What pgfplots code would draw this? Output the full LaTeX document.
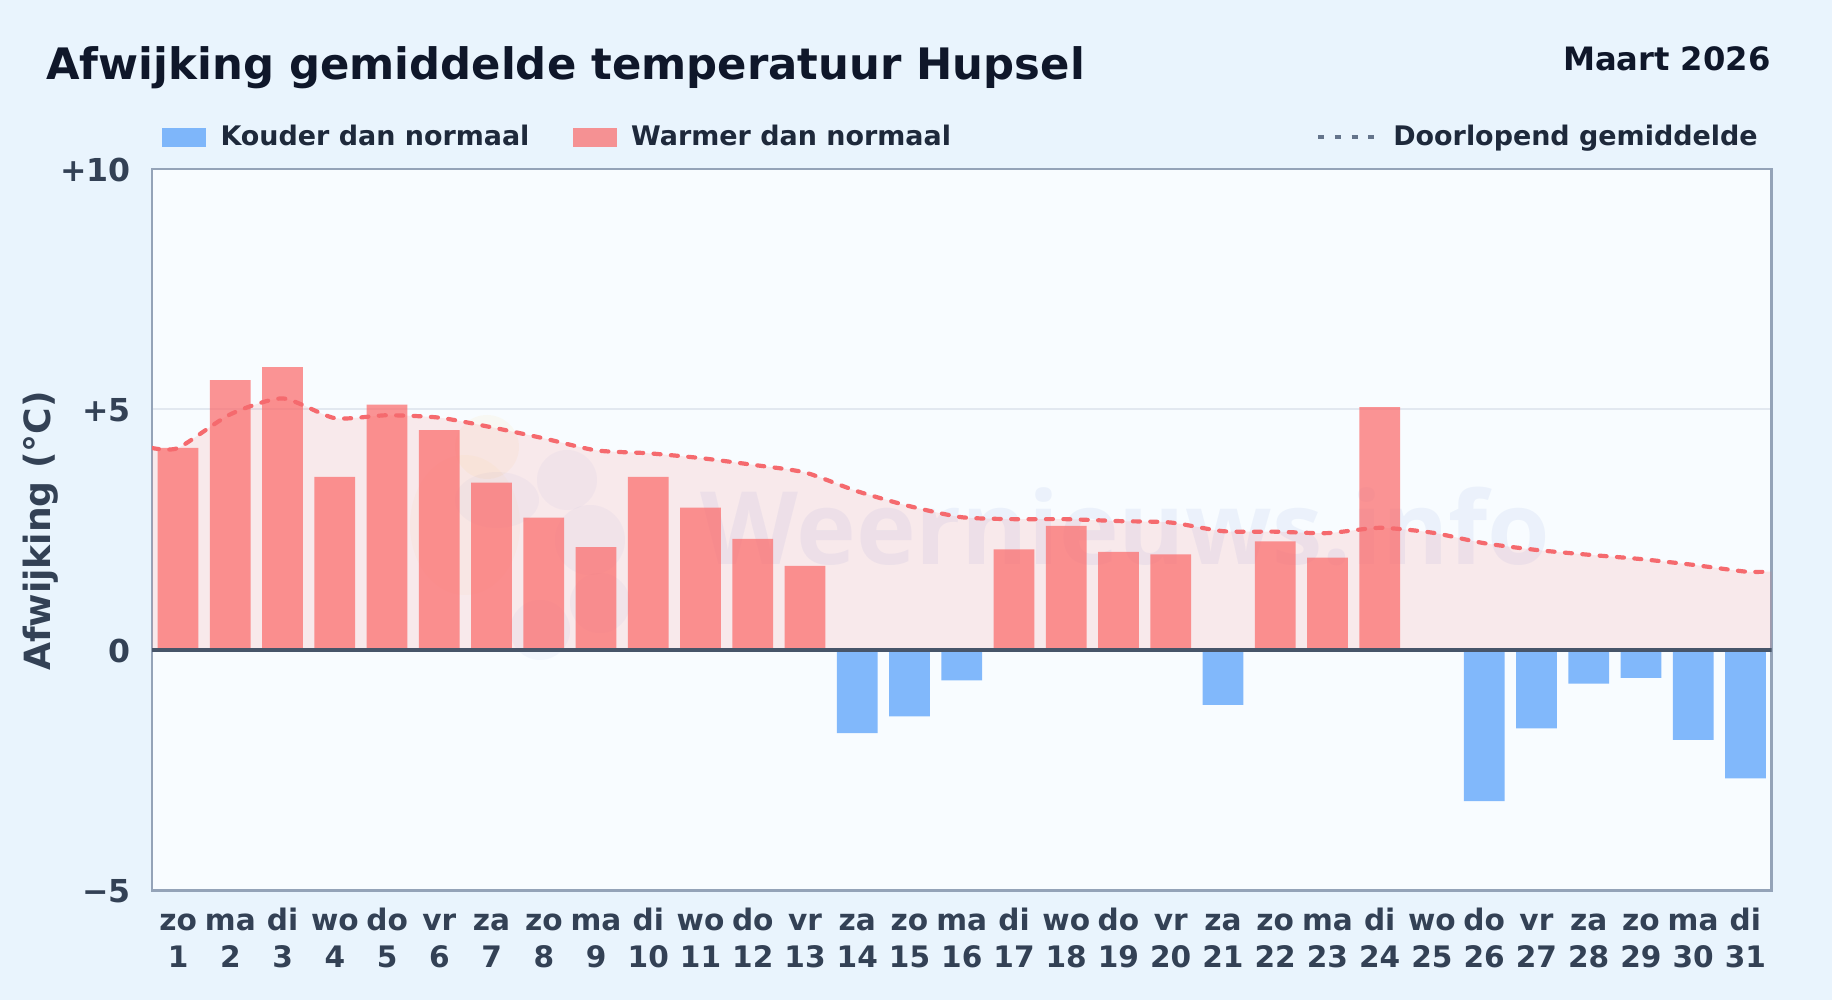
\documentclass[border=0pt]{standalone}
\usepackage{fontspec}
\setmainfont{DejaVu Sans}
\newfontfamily\wmfont{Open Sans}
\usepackage{pgfplots}
\pgfplotsset{compat=1.18}

\definecolor{pagebg}{HTML}{E9F4FD}
\definecolor{plotbg}{HTML}{F8FCFF}
\definecolor{warm}{HTML}{FB6B6B}
\definecolor{cold}{HTML}{60A5FA}
\definecolor{avgline}{HTML}{F56A6E}
\definecolor{rim}{HTML}{94A3B8}
\definecolor{gridc}{HTML}{E2E8F0}
\definecolor{zeroc}{HTML}{475569}
\definecolor{ticktxt}{HTML}{334155}
\definecolor{legtxt}{HTML}{1E293B}
\definecolor{titletxt}{HTML}{0F172A}
\definecolor{legdots}{HTML}{64748B}
\definecolor{wmblue}{HTML}{1E50C0}
\definecolor{wmsun}{HTML}{FBBF24}

% two-line day label, strut keeps the first lines level
\newcommand\dl[2]{\rule{0pt}{12pt}#1\\#2}

\begin{document}
% 1 px of the reference = 0.5pt
\begin{tikzpicture}[x=0.5pt,y=0.5pt]
	\fill[pagebg] (0,0) rectangle (1832,1000);
	\fill[plotbg] (152,109.5) rectangle (1771.5,831);

	% watermark
	\fill[wmsun,opacity=0.05] (487,553) circle (32);
	\fill[wmsun,opacity=0.04] (465,475) ellipse (55 and 70);
	\fill[wmblue,opacity=0.035] (567,520) circle (30);
	\fill[wmblue,opacity=0.035] (497,500) ellipse (42 and 28);
	\fill[wmblue,opacity=0.035] (590,460) circle (35);
	\fill[wmblue,opacity=0.035] (540,370) circle (30);
	\fill[wmblue,opacity=0.035] (600,397) circle (30);
	\node[anchor=base west,inner sep=0pt,text=wmblue,opacity=0.06,font=\wmfont\bfseries\fontsize{50.6}{60}\selectfont] at (700,435) {Weernieuws.info};

	\node[anchor=base west,inner sep=0pt,text=titletxt,font=\bfseries\fontsize{21.67}{24}\selectfont] at (46,920) {Afwijking gemiddelde temperatuur Hupsel};
	\node[anchor=base east,inner sep=0pt,text=titletxt,font=\bfseries\fontsize{16.1}{18}\selectfont] at (1771,929) {Maart 2026};
	\node[rotate=90,inner sep=0pt,text=ticktxt,font=\bfseries\fontsize{18.06}{20}\selectfont] at (41,469) {Afwijking (°C)};

	\begin{axis}[
		at={(76pt,54.75pt)},
		anchor=south west,
		scale only axis,
		width=809.75pt,
		height=360.75pt,
		xmin=0.5, xmax=31.5,
		ymin=-5, ymax=10,
		axis line style={rim,line width=1.4pt},
		major tick length=0pt,
		/pgf/number format/assume math mode=true,
		ytick={-5,0,5,10},
		yticklabels={−5,0,+5,+10},
		ymajorgrids,
		grid style={gridc,line width=1pt},
		yticklabel style={font=\bfseries\fontsize{15.8}{18}\selectfont,text=ticktxt,anchor=east,xshift=-7pt,yshift=-0.5pt},
		xtick={1,...,31},
		xticklabels={{\dl{zo}{1}},{\dl{ma}{2}},{\dl{di}{3}},{\dl{wo}{4}},{\dl{do}{5}},{\dl{vr}{6}},{\dl{za}{7}},{\dl{zo}{8}},{\dl{ma}{9}},{\dl{di}{10}},{\dl{wo}{11}},{\dl{do}{12}},{\dl{vr}{13}},{\dl{za}{14}},{\dl{zo}{15}},{\dl{ma}{16}},{\dl{di}{17}},{\dl{wo}{18}},{\dl{do}{19}},{\dl{vr}{20}},{\dl{za}{21}},{\dl{zo}{22}},{\dl{ma}{23}},{\dl{di}{24}},{\dl{wo}{25}},{\dl{do}{26}},{\dl{vr}{27}},{\dl{za}{28}},{\dl{zo}{29}},{\dl{ma}{30}},{\dl{di}{31}}},
		xticklabel style={font=\bfseries\fontsize{14.8}{18.2}\selectfont,text=ticktxt,align=center,anchor=north,yshift=-4.7pt},
		legend columns=3,
		legend style={
			at={(0,1)},anchor=south west,xshift=5pt,yshift=8pt,
			draw=none,fill=none,inner sep=0pt,outer sep=0pt,
			font=\bfseries\fontsize{13.47}{15}\selectfont,text=legtxt,
			cells={anchor=west},
			/tikz/every odd column/.style={column sep=5.25pt},
			/tikz/column 2/.style={column sep=19.6pt},
			/tikz/column 4/.style={column sep=180.6pt},
		},
	]
		% area under the running mean
		\addplot[forget plot,draw=none,fill=warm,fill opacity=0.13,smooth,tension=0.4] coordinates {
			(0.5,4.20)(1,4.20)(2,4.90)(3,5.23)(4,4.82)(5,4.88)(6,4.83)(7,4.63)(8,4.40)(9,4.15)(10,4.09)
			(11,3.99)(12,3.85)(13,3.69)(14,3.30)(15,2.99)(16,2.76)(17,2.72)(18,2.72)(19,2.68)(20,2.65)
			(21,2.47)(22,2.46)(23,2.43)(24,2.54)(25,2.44)(26,2.22)(27,2.08)(28,1.98)(29,1.89)(30,1.77)(31,1.63)(31.5,1.63)
		} \closedcycle;

		\addplot[ybar,bar width=0.78,bar shift=0pt,draw=none,fill=cold,fill opacity=0.78,
			legend image code/.code={\fill[cold,fill opacity=0.78] (0pt,-4.75pt) rectangle (22pt,4.75pt);}] coordinates {
			(14,-1.73)(15,-1.38)(16,-0.63)(21,-1.14)(26,-3.14)(27,-1.63)(28,-0.70)(29,-0.58)(30,-1.87)(31,-2.67)
		};
		\addlegendentry{Kouder dan normaal}

		\addplot[ybar,bar width=0.78,bar shift=0pt,draw=none,fill=warm,fill opacity=0.72,
			legend image code/.code={\fill[warm,fill opacity=0.72] (0pt,-4.75pt) rectangle (22pt,4.75pt);}] coordinates {
			(1,4.20)(2,5.61)(3,5.88)(4,3.60)(5,5.10)(6,4.57)(7,3.48)(8,2.75)(9,2.14)(10,3.60)(11,2.96)(12,2.31)(13,1.75)
			(17,2.09)(18,2.58)(19,2.04)(20,1.99)(22,2.26)(23,1.92)(24,5.05)
		};
		\addlegendentry{Warmer dan normaal}

		\addplot[avgline,line width=2.1pt,line cap=round,smooth,tension=0.4,dash pattern=on 3.5pt off 5.2pt,
			legend image code/.code={\draw[legdots,line width=2pt,line cap=butt,dash pattern=on 3pt off 5.33pt] (0pt,0pt) -- (28pt,0pt);\path[draw=none] (0pt,0pt) -- (30.3pt,0pt);}] coordinates {
			(0.5,4.20)(1,4.20)(2,4.90)(3,5.23)(4,4.82)(5,4.88)(6,4.83)(7,4.63)(8,4.40)(9,4.15)(10,4.09)
			(11,3.99)(12,3.85)(13,3.69)(14,3.30)(15,2.99)(16,2.76)(17,2.72)(18,2.72)(19,2.68)(20,2.65)
			(21,2.47)(22,2.46)(23,2.43)(24,2.54)(25,2.44)(26,2.22)(27,2.08)(28,1.98)(29,1.89)(30,1.77)(31,1.63)(31.5,1.63)
		};
		\addlegendentry{Doorlopend gemiddelde}

		% zero line
		\addplot[forget plot,zeroc,line width=1.6pt] coordinates {(0.5,0)(31.5,0)};
	\end{axis}
\end{tikzpicture}
\end{document}
